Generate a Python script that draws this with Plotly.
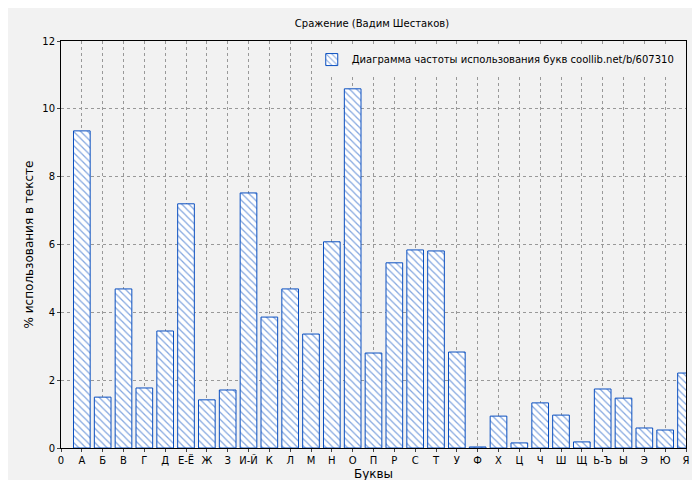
import plotly.graph_objects as go

letters = ["А","Б","В","Г","Д","Е-Ё","Ж","З","И-Й","К","Л","М","Н","О","П","Р","С","Т","У","Ф","Х","Ц","Ч","Ш","Щ","Ь-Ъ","Ы","Э","Ю","Я"]
values = [9.35,1.5,4.69,1.77,3.45,7.2,1.42,1.71,7.52,3.86,4.69,3.36,6.08,10.59,2.8,5.46,5.84,5.81,2.83,0.03,0.94,0.15,1.33,0.97,0.18,1.74,1.47,0.59,0.53,2.21]
tick_labels = ["0"] + letters
positions = list(range(1, len(letters) + 1))

fig = go.Figure()
fig.add_trace(go.Bar(
    x=positions, y=values, width=0.8,
    name="Диаграмма частоты использования букв coollib.net/b/607310",
    marker=dict(color="white", line=dict(color="#0a4fc0", width=1),
                pattern=dict(shape="\\", fgcolor="#0a4fc0", bgcolor="white", size=5, solidity=0.25)),
))
fig.update_layout(
    width=700, height=480,
    paper_bgcolor="#f2f2f2", plot_bgcolor="#f2f2f2",
    margin=dict(l=53, r=22, t=33, b=40, autoexpand=False),
    font=dict(family="DejaVu Sans", size=10, color="black"),
    title=dict(text="Сражение (Вадим Шестаков)", x=0.52, y=0.975, xanchor="center", font=dict(size=10)),
    showlegend=True,
    legend=dict(x=0.99, y=0.99, xanchor="right", yanchor="top", bgcolor="#f2f2f2", font=dict(size=10)),
    bargap=0.2,
)
fig.update_xaxes(range=[0, 30], tickvals=list(range(0, 31)), ticktext=tick_labels, automargin=False,
                 showgrid=True, gridcolor="#999", griddash="dot", showline=True, linecolor="black",
                 mirror=True, ticks="outside", ticklen=3, title=dict(text="Буквы", standoff=4), zeroline=False)
fig.update_yaxes(range=[0, 12], dtick=2, showgrid=True, gridcolor="#999", griddash="dot", automargin=False,
                 showline=True, linecolor="black", mirror=True, ticks="outside", ticklen=3,
                 title=dict(text="% использования в тексте", standoff=6), zeroline=False)
fig.write_html("out.html")
